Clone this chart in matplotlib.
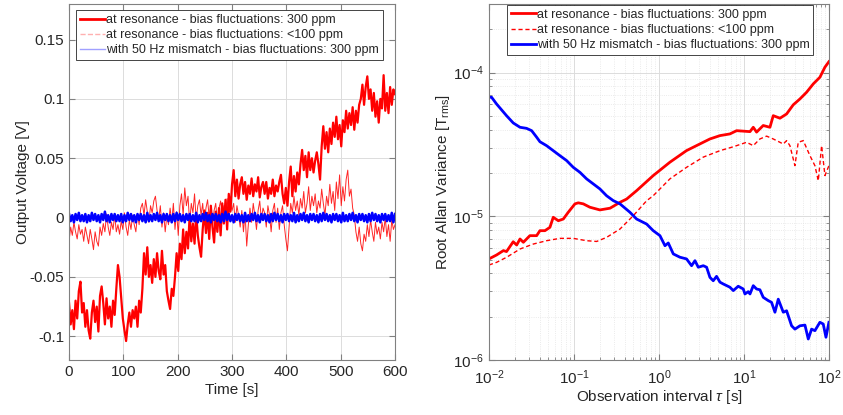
import numpy as np
import matplotlib
matplotlib.use("Agg")
import matplotlib.pyplot as plt
from matplotlib.lines import Line2D
from matplotlib.ticker import LogLocator, NullFormatter

plt.rcParams['font.family'] = ['Liberation Sans', 'DejaVu Sans']
plt.rcParams['mathtext.fontset'] = 'custom'
plt.rcParams['mathtext.rm'] = 'Liberation Sans'
plt.rcParams['mathtext.it'] = 'Liberation Sans:italic'

# ---- left panel: output voltage vs time, one sample every 3 s ----
t_step = 3
v_res_300 = [
    -0.072, -0.090, -0.078, -0.094, -0.070, -0.085, -0.062, -0.054, -0.080, -0.072, -0.092,
    -0.078, -0.095, -0.102, -0.080, -0.070, -0.088, -0.075, -0.096, -0.066, -0.058,
    -0.072, -0.090, -0.068, -0.085, -0.075, -0.092, -0.070, -0.082, -0.060, -0.040,
    -0.050, -0.068, -0.085, -0.095, -0.104, -0.090, -0.080, -0.092, -0.078, -0.085,
    -0.075, -0.092, -0.070, -0.080, -0.060, -0.030, -0.048, -0.025, -0.050, -0.040,
    -0.055, -0.035, -0.050, -0.030, -0.045, -0.052, -0.028, -0.048, -0.040, -0.062,
    -0.070, -0.077, -0.060, -0.066, -0.050, -0.030, -0.045, -0.022, -0.035, -0.010,
    -0.030, -0.012, -0.026, 0.002, -0.020, -0.005, -0.022, 0.003, -0.015, -0.025,
    -0.033, -0.010, 0.006, -0.013, 0.004, -0.018, 0.010, -0.008, -0.021, 0.005,
    -0.012, 0.008, -0.015, 0.012, -0.005, 0.015, -0.010, 0.020, 0.005, 0.028,
    0.040, 0.018, 0.032, 0.016, 0.028, 0.034, 0.020, 0.030, 0.015, 0.027,
    0.020, 0.033, 0.018, 0.028, 0.022, 0.034, 0.017, 0.026, 0.030, 0.020,
    0.030, 0.016, 0.025, 0.020, 0.032, 0.018, 0.027, 0.022, 0.030, 0.036,
    0.020, 0.012, 0.025, 0.010, 0.030, 0.043, 0.018, 0.035, 0.022, 0.038,
    0.028, 0.045, 0.057, 0.040, 0.052, 0.034, 0.055, 0.040, 0.050, 0.038,
    0.048, 0.055, 0.045, 0.032, 0.060, 0.077, 0.058, 0.072, 0.055, 0.075,
    0.062, 0.080, 0.068, 0.085, 0.066, 0.078, 0.060, 0.082, 0.072, 0.090,
    0.075, 0.088, 0.078, 0.093, 0.074, 0.090, 0.080, 0.095, 0.100, 0.112,
    0.095, 0.110, 0.119, 0.100, 0.108, 0.090, 0.105, 0.085, 0.098, 0.080,
    0.100, 0.092, 0.120, 0.090, 0.105, 0.088, 0.110, 0.095, 0.108, 0.104,
]
v_res_100 = [
    -0.020, -0.008, -0.015, -0.004, -0.012, -0.018, -0.006, -0.014, -0.010, -0.020, -0.008,
    -0.015, -0.022, -0.010, -0.018, -0.027, -0.012, -0.020, -0.024, -0.008, -0.015,
    -0.005, -0.012, 0.003, -0.008, -0.015, -0.004, -0.010, 0.002, -0.012, -0.006,
    -0.014, -0.003, -0.010, 0.004, -0.008, -0.015, -0.002, -0.010, 0.002, -0.006,
    -0.012, 0.003, -0.006, 0.008, 0.012, 0.002, 0.015, 0.005, -0.004, 0.010,
    0.004, 0.014, 0.018, 0.006, -0.002, 0.010, -0.008, 0.004, -0.012, 0.002,
    -0.006, 0.008, -0.004, 0.012, -0.010, 0.005, -0.015, 0.010, 0.020, 0.002,
    0.025, 0.010, 0.018, -0.005, 0.012, 0.004, 0.020, -0.002, 0.010, 0.015,
    0.002, 0.012, -0.006, 0.008, 0.015, 0.000, 0.010, -0.008, 0.006, 0.012,
    -0.004, 0.008, 0.014, -0.002, 0.010, 0.004, 0.016, 0.000, 0.012, 0.006,
    0.012, -0.004, 0.010, 0.002, -0.008, 0.006, -0.012, 0.004, -0.024, -0.006,
    0.008, -0.004, 0.012, 0.002, -0.010, 0.006, 0.014, -0.002, 0.008, 0.004,
    -0.008, 0.010, 0.002, -0.012, 0.006, 0.012, -0.004, 0.008, -0.010, 0.004,
    0.010, -0.006, -0.018, -0.028, -0.008, 0.012, 0.004, 0.018, 0.006, 0.014,
    0.002, 0.016, 0.008, 0.022, 0.004, 0.012, 0.026, 0.006, 0.018, 0.010,
    0.020, 0.004, 0.014, 0.008, 0.024, 0.012, 0.002, 0.018, 0.010, 0.028,
    0.012, 0.022, 0.006, 0.030, 0.016, 0.036, 0.010, 0.026, 0.014, 0.032,
    0.040, 0.018, 0.024, 0.008, 0.002, -0.012, -0.020, -0.008, -0.022, -0.028,
    -0.014, -0.020, -0.006, -0.016, -0.002, -0.012, -0.020, -0.004, -0.014, -0.008,
    -0.018, -0.004, -0.012, 0.000, -0.016, -0.006, -0.020, -0.002, -0.010, -0.006,
]
v_mismatch = [
    0.003, -0.003, 0.002, -0.004, 0.003, -0.002, 0.004, -0.003, 0.002, -0.003, 0.003,
    -0.004, 0.002, -0.003, 0.004, -0.002, 0.003, -0.003, 0.002, -0.004, 0.003,
    -0.002, 0.005, -0.003, 0.002, -0.004, 0.003, -0.002, 0.003, -0.003, 0.002,
    -0.003, 0.003, -0.004, 0.002, -0.003, 0.004, -0.002, 0.003, -0.003, 0.002,
    -0.004, 0.003, -0.002, 0.003, -0.003, 0.002, -0.004, 0.004, -0.003, 0.002,
    -0.003, 0.003, -0.002, 0.004, -0.003, 0.002, -0.004, 0.003, -0.002, 0.003,
    -0.003, 0.002, -0.004, 0.003, -0.003, 0.004, -0.002, 0.003, -0.003, 0.002,
    -0.004, 0.003, -0.002, 0.003, -0.003, 0.002, -0.003, 0.004, -0.004, 0.002,
    -0.003, 0.003, -0.002, 0.004, -0.003, 0.002, -0.004, 0.003, -0.002, 0.003,
    -0.003, 0.002, -0.004, 0.003, -0.003, 0.005, -0.002, 0.003, -0.003, 0.002,
    -0.004, 0.003, -0.002, 0.003, -0.003, 0.002, -0.004, 0.004, -0.003, 0.002,
    -0.003, 0.003, -0.002, 0.004, -0.003, 0.002, -0.004, 0.003, -0.002, 0.003,
    -0.003, 0.002, -0.004, 0.003, -0.003, 0.004, -0.002, 0.003, -0.003, 0.002,
    -0.004, 0.003, -0.002, 0.003, -0.003, 0.002, -0.003, 0.004, -0.004, 0.002,
    -0.003, 0.003, -0.002, 0.004, -0.003, 0.002, -0.004, 0.003, -0.002, 0.003,
    -0.003, 0.002, -0.004, 0.003, -0.003, 0.004, -0.002, 0.003, -0.003, 0.002,
    -0.004, 0.003, -0.002, 0.003, -0.003, 0.002, -0.004, 0.004, -0.003, 0.002,
    -0.003, 0.003, -0.002, 0.004, -0.003, 0.002, -0.004, 0.003, -0.002, 0.003,
    -0.003, 0.002, -0.004, 0.003, -0.003, 0.004, -0.002, 0.003, -0.003, 0.002,
    -0.004, 0.003, -0.002, 0.003, -0.003, 0.002, -0.003, 0.004, -0.004, 0.003,
]
time_s = np.arange(len(v_res_300)) * t_step

# ---- right panel: root Allan variance ----
tau_res_300 = [0.010, 0.0123, 0.0148, 0.0161, 0.0193, 0.0212, 0.0232, 0.0254, 0.0303, 0.0364,
               0.0398, 0.0456, 0.0522, 0.0571, 0.0655, 0.075, 0.0857, 0.1028, 0.1125, 0.1288,
               0.154, 0.202, 0.266, 0.348, 0.417, 0.546, 0.857, 1.346, 2.113, 3.327,
               3.981, 5.224, 6.839, 8.204, 11.78, 12.88, 14.09, 16.87, 20.23, 22.13,
               26.55, 31.77, 38.02, 45.6, 54.6, 65.5, 78.3, 89.7, 100.0]
adev_res_300 = [5.05e-6, 5.38e-6, 5.77e-6, 5.68e-6, 6.65e-6, 6.31e-6, 6.95e-6, 6.59e-6, 7.33e-6, 7.33e-6,
                7.94e-6, 7.94e-6, 8.38e-6, 9.84e-6, 9.31e-6, 9.57e-6, 1.066e-5, 1.22e-5, 1.24e-5, 1.22e-5,
                1.156e-5, 1.107e-5, 1.138e-5, 1.25e-5, 1.318e-5, 1.507e-5, 1.919e-5, 2.377e-5, 2.864e-5, 3.273e-5,
                3.45e-5, 3.64e-5, 3.74e-5, 3.94e-5, 3.88e-5, 4.16e-5, 3.85e-5, 4.28e-5, 4.16e-5, 5.01e-5,
                4.81e-5, 5.15e-5, 5.96e-5, 6.55e-5, 7.29e-5, 8.34e-5, 9.27e-5, 1.089e-4, 1.19e-4]

tau_res_100 = [0.010, 0.0123, 0.0161, 0.0232, 0.0333, 0.0476, 0.0684, 0.0982, 0.141, 0.185,
               0.242, 0.348, 0.499, 0.716, 0.857, 1.346, 2.113, 3.327, 5.224, 7.16,
               8.204, 10.74, 12.88, 15.42, 18.49, 22.13, 26.55, 29.04, 31.77, 34.75,
               39.81, 43.55, 49.89, 59.84, 68.39, 74.99, 82.04, 89.74, 100.0]
adev_res_100 = [4.58e-6, 4.78e-6, 5.18e-6, 5.92e-6, 6.41e-6, 6.76e-6, 7.02e-6, 7.02e-6, 6.76e-6, 6.68e-6,
                7.13e-6, 8.15e-6, 1.009e-5, 1.282e-5, 1.39e-5, 1.82e-5, 2.19e-5, 2.58e-5, 2.86e-5, 3.02e-5,
                3.10e-5, 3.27e-5, 3.10e-5, 3.45e-5, 3.61e-5, 3.45e-5, 3.27e-5, 3.18e-5, 3.36e-5, 3.10e-5,
                2.25e-5, 3.27e-5, 3.36e-5, 2.64e-5, 2.25e-5, 1.77e-5, 3.10e-5, 1.92e-5, 2.25e-5]

tau_mismatch = [0.010, 0.01074, 0.0123, 0.0161, 0.0193, 0.0232, 0.0277, 0.0318, 0.0364, 0.0398,
                0.0476, 0.0571, 0.0684, 0.082, 0.0982, 0.1178, 0.141, 0.1687, 0.202, 0.242,
                0.290, 0.348, 0.456, 0.546, 0.716, 0.857, 1.028, 1.178, 1.288, 1.476,
                1.766, 2.113, 2.421, 2.655, 2.904, 3.327, 3.639, 3.981, 4.355, 4.764,
                5.224, 5.715, 6.839, 7.499, 8.57, 9.82, 10.28, 11.25, 11.78, 12.88,
                14.09, 15.42, 16.87, 19.32, 21.13, 23.17, 25.35, 29.04, 31.77, 36.39,
                39.81, 45.6, 52.24, 57.15, 62.52, 68.39, 78.3, 85.7, 92.3, 100.0]
adev_mismatch = [6.73e-5, 6.73e-5, 6.04e-5, 5.01e-5, 4.46e-5, 4.16e-5, 4.09e-5, 3.94e-5, 3.55e-5, 3.30e-5,
                 3.10e-5, 2.86e-5, 2.64e-5, 2.44e-5, 2.19e-5, 2.02e-5, 1.82e-5, 1.68e-5, 1.55e-5, 1.39e-5,
                 1.285e-5, 1.22e-5, 1.066e-5, 9.57e-6, 8.83e-6, 7.94e-6, 7.33e-6, 6.24e-6, 6.52e-6, 5.47e-6,
                 5.19e-6, 5.05e-6, 4.53e-6, 4.91e-6, 4.42e-6, 4.53e-6, 4.42e-6, 3.76e-6, 3.56e-6, 3.82e-6,
                 3.48e-6, 3.38e-6, 3.21e-6, 3.04e-6, 3.26e-6, 3.12e-6, 2.88e-6, 2.99e-6, 2.88e-6, 3.29e-6,
                 3.12e-6, 3.08e-6, 2.73e-6, 2.59e-6, 2.52e-6, 2.15e-6, 2.65e-6, 2.15e-6, 2.20e-6, 1.73e-6,
                 1.64e-6, 1.73e-6, 1.75e-6, 1.40e-6, 1.64e-6, 1.60e-6, 1.83e-6, 1.78e-6, 1.44e-6, 1.83e-6]

labels = ["at resonance - bias fluctuations: 300 ppm",
          "at resonance - bias fluctuations: <100 ppm",
          "with 50 Hz mismatch - bias fluctuations: 300 ppm"]

text_col = "#262626"
axis_col = "#808080"

fig = plt.figure(figsize=(8.43, 4.15), dpi=100)
ax1 = fig.add_axes([0.0819, 0.1325, 0.3867, 0.858])
ax2 = fig.add_axes([0.580, 0.1325, 0.4033, 0.858])


def style_axes(ax):
    for s in ax.spines.values():
        s.set_color(axis_col)
        s.set_linewidth(0.8)
    ax.tick_params(which="both", direction="in", top=True, right=True,
                   colors=axis_col, labelcolor=text_col, labelsize=11)
    ax.tick_params(which="major", length=4)
    ax.tick_params(which="minor", length=2)


# left panel
ax1.plot(time_s, v_res_300, color="red", lw=1.6)
ax1.plot(time_s, v_res_100, color="red", lw=0.7, alpha=0.85)
ax1.plot(time_s, v_mismatch, color="blue", lw=1.8)
ax1.set_xlim(0, 600)
ax1.set_ylim(-0.12, 0.18)
ax1.set_xticks([0, 100, 200, 300, 400, 500, 600])
ax1.set_yticks([-0.1, -0.05, 0, 0.05, 0.1, 0.15])
ax1.set_yticklabels(["-0.1", "-0.05", "0", "0.05", "0.1", "0.15"])
ax1.grid(True, color="#dcdcdc", lw=0.7)
ax1.set_axisbelow(True)
style_axes(ax1)
ax1.set_xlabel("Time [s]", fontsize=11, color=text_col, labelpad=3)
ax1.set_ylabel("Output Voltage [V]", fontsize=11, color=text_col, labelpad=0)
proxies = [Line2D([], [], color="red", lw=2),
           Line2D([], [], color="#ffb0b0", lw=1, ls="--"),
           Line2D([], [], color="#a0a0ff", lw=1)]
leg1 = ax1.legend(proxies, labels, loc="upper left", bbox_to_anchor=(0.022, 0.982),
                  fontsize=9, fancybox=False, edgecolor=text_col, framealpha=1,
                  handlelength=2.0, handletextpad=0.1, borderpad=0.3, labelspacing=0.25,
                  borderaxespad=0)
leg1.get_frame().set_linewidth(0.6)
for txt in leg1.get_texts():
    txt.set_color(text_col)

# right panel
ax2.loglog(tau_res_300, adev_res_300, color="red", lw=2, label=labels[0])
ax2.loglog(tau_res_100, adev_res_100, color="red", lw=1, ls=(0, (3, 2)), label=labels[1])
ax2.loglog(tau_mismatch, adev_mismatch, color="blue", lw=2, label=labels[2])
ax2.set_xlim(1e-2, 1e2)
ax2.set_ylim(1e-6, 3e-4)
ax2.xaxis.set_major_locator(LogLocator(base=10, numticks=10))
ax2.yaxis.set_major_locator(LogLocator(base=10, numticks=10))
ax2.xaxis.set_minor_locator(LogLocator(base=10, subs=np.arange(2, 10), numticks=20))
ax2.yaxis.set_minor_locator(LogLocator(base=10, subs=np.arange(2, 10), numticks=20))
ax2.xaxis.set_minor_formatter(NullFormatter())
ax2.yaxis.set_minor_formatter(NullFormatter())
ax2.grid(True, which="major", color="#dcdcdc", lw=0.7)
ax2.grid(True, which="minor", color="#e4e4e4", lw=0.6, ls=":")
ax2.set_axisbelow(True)
style_axes(ax2)
ax2.tick_params(axis="x", which="major", pad=6)
ax2.set_xlabel(r"Observation interval $\tau$ [s]", fontsize=11, color=text_col, labelpad=1)
ax2.set_ylabel(r"Root Allan Variance [T$_{\mathrm{rms}}$]", fontsize=11, color=text_col, labelpad=1)
leg2 = ax2.legend(loc="upper left", bbox_to_anchor=(0.053, 0.997),
                  fontsize=9, fancybox=False, edgecolor=text_col, framealpha=1,
                  handlelength=2.0, handletextpad=0.1, borderpad=0.3, labelspacing=0.25,
                  borderaxespad=0)
leg2.get_frame().set_linewidth(0.6)
for txt in leg2.get_texts():
    txt.set_color(text_col)

fig.savefig("out.png", dpi=100)
